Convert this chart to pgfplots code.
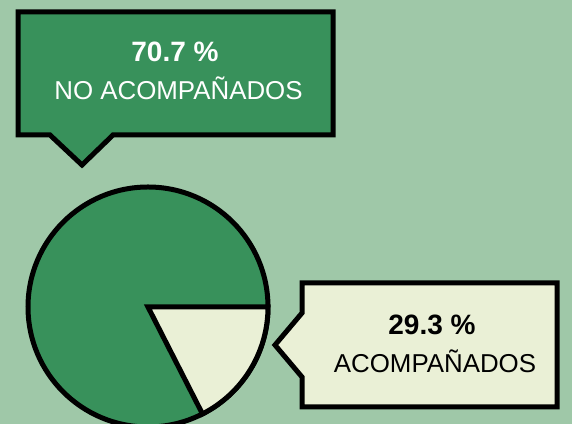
\documentclass[border=0pt]{standalone}
\usepackage{pgfplots}
\pgfplotsset{compat=1.18}
\usepackage{fontspec}
\setmainfont{Liberation Sans}
\definecolor{bg}{RGB}{159,200,168}
\definecolor{dgreen}{RGB}{56,145,91}
\definecolor{cream}{RGB}{234,240,214}
% pie as drawn: share of the light slice (percent of the circle)
\pgfplotstableread{
group share
NoAcompanados 82.5
Acompanados 17.5
}\piedata
\pgfplotstablegetelem{1}{share}\of\piedata
\pgfmathsetmacro{\lightangle}{-3.6*\pgfplotsretval}
\begin{document}
\begin{tikzpicture}
\useasboundingbox (0,0) rectangle (429pt,318pt);
\clip (0,0) rectangle (429pt,318pt);
\fill[bg] (0,0) rectangle (429pt,318pt);
\begin{axis}[hide axis, scale only axis, x=0.75pt, y=0.75pt,
  xmin=0, xmax=572, ymin=0, ymax=424, clip=false]
% pie
\filldraw[fill=dgreen, draw=black, line width=3.75pt] (axis cs:148,117) circle[radius=90pt];
\filldraw[fill=cream, draw=black, line width=3.75pt, line join=miter]
  (axis cs:148,117) -- ++(0:90pt) arc[start angle=0, end angle=\lightangle, radius=90pt] -- cycle;
% callout 1
\filldraw[fill=dgreen, draw=black, line width=3.75pt, line join=miter]
  (axis cs:18,412) -- (axis cs:333,412) -- (axis cs:333,289) -- (axis cs:113,289)
  -- (axis cs:82,259) -- (axis cs:50,289) -- (axis cs:18,289) -- cycle;
\node[anchor=base, text=white, font=\fontsize{21pt}{25pt}\selectfont\bfseries, inner sep=0pt] at (axis cs:175,362) {70.7 \%};
\node[anchor=base, text=white, font=\fontsize{19.4pt}{23pt}\selectfont, inner sep=0pt] at (axis cs:178.5,324) {NO ACOMPAÑADOS};
% callout 2
\filldraw[fill=cream, draw=black, line width=3.75pt, line join=miter]
  (axis cs:302,141) -- (axis cs:557,141) -- (axis cs:557,17) -- (axis cs:302,17)
  -- (axis cs:302,47) -- (axis cs:275,79) -- (axis cs:302,111) -- cycle;
\node[anchor=base, text=black, font=\fontsize{21pt}{25pt}\selectfont\bfseries, inner sep=0pt] at (axis cs:432,89) {29.3 \%};
\node[anchor=base, text=black, font=\fontsize{19.4pt}{23pt}\selectfont, inner sep=0pt] at (axis cs:435,51) {ACOMPAÑADOS};
\end{axis}
\end{tikzpicture}
\end{document}
